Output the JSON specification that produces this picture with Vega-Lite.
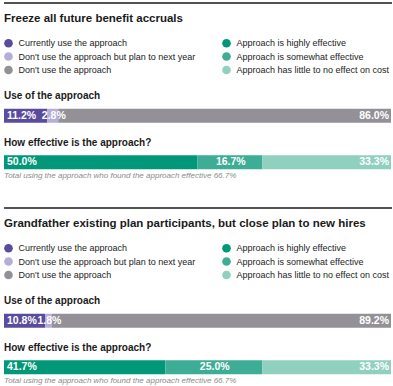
{
  "$schema": "https://vega.github.io/schema/vega-lite/v6.json",
  "padding": {"left": 3, "right": 2, "top": 2, "bottom": 0},
  "background": "#ffffff",
  "config": {
    "view": {"stroke": null},
    "font": "Liberation Sans, Arial, sans-serif",
    "concat": {"spacing": 8.5}
  },
  "datasets": {
    "s1": [
      {"bar": "Use of the approach", "cat": "Currently use the approach", "value": 0.112},
      {"bar": "Use of the approach", "cat": "Don't use the approach but plan to next year", "value": 0.028},
      {"bar": "Use of the approach", "cat": "Don't use the approach", "value": 0.860},
      {"bar": "How effective is the approach?", "cat": "Approach is highly effective", "value": 0.500},
      {"bar": "How effective is the approach?", "cat": "Approach is somewhat effective", "value": 0.167},
      {"bar": "How effective is the approach?", "cat": "Approach has little to no effect on cost", "value": 0.333}
    ],
    "s2": [
      {"bar": "Use of the approach", "cat": "Currently use the approach", "value": 0.108},
      {"bar": "Use of the approach", "cat": "Don't use the approach but plan to next year", "value": 0.018},
      {"bar": "Use of the approach", "cat": "Don't use the approach", "value": 0.892},
      {"bar": "How effective is the approach?", "cat": "Approach is highly effective", "value": 0.417},
      {"bar": "How effective is the approach?", "cat": "Approach is somewhat effective", "value": 0.250},
      {"bar": "How effective is the approach?", "cat": "Approach has little to no effect on cost", "value": 0.333}
    ],
    "rule": [{"k": 0}]
  },
  "resolve": {"scale": {"color": "independent"}, "legend": {"color": "independent"}},
  "vconcat": [
    {
      "width": 388, "height": 1,
      "data": {"name": "rule"},
      "mark": {"type": "rule", "color": "#1a1a1a", "strokeWidth": 1.5},
      "encoding": {"y": {"datum": 0, "type": "quantitative", "scale": {"domain": [0, 1]}, "axis": null}}
    },
    {
      "width": 387, "height": 93,
      "data": {"name": "s1"},
      "title": {"text": "Freeze all future benefit accruals", "anchor": "start", "fontSize": 11.5, "fontWeight": "bold", "color": "#1a1a1a", "offset": 14.25},
      "transform": [
        {"window": [{"op": "row_number", "as": "rank"}], "groupby": ["bar"]},
        {"stack": "value", "groupby": ["bar"], "sort": [{"field": "rank", "order": "ascending"}], "offset": "normalize", "as": ["x0", "x1"]}
      ],
      "encoding": {
        "y": {"field": "bar", "type": "nominal", "axis": null, "scale": {"domain": ["Use of the approach", "How effective is the approach?"], "paddingInner": 0, "paddingOuter": 0}}
      },
      "layer": [
        {
          "mark": {"type": "bar", "size": 14},
          "encoding": {
            "x": {"field": "x0", "type": "quantitative", "axis": null, "scale": {"domain": [0, 1], "nice": false}},
            "x2": {"field": "x1"},
            "color": {"field": "cat", "type": "nominal",
              "scale": {"domain": ["Currently use the approach", "Approach is highly effective", "Don't use the approach but plan to next year", "Approach is somewhat effective", "Don't use the approach", "Approach has little to no effect on cost"],
                        "range": ["#5b4b9e", "#009879", "#b6add8", "#3dae95", "#939197", "#90d0bf"]},
              "legend": {"orient": "top", "columns": 2, "title": null, "symbolType": "circle", "symbolSize": 75, "symbolStrokeWidth": 0, "labelFontSize": 9, "labelColor": "#222222", "labelLimit": 300, "labelOffset": 5.5, "rowPadding": 3.5, "columnPadding": 26, "offset": 17, "padding": 0}
            }
          }
        },
        {
          "transform": [{"filter": "datum.rank == 1"}],
          "mark": {"type": "text", "align": "left", "dx": 3, "color": "#ffffff", "fontWeight": "bold", "fontSize": 10.5},
          "encoding": {"x": {"field": "x0", "type": "quantitative"}, "text": {"field": "value", "type": "quantitative", "format": ".1%"}}
        },
        {
          "transform": [{"filter": "datum.rank == 2"}, {"fold": ["x0", "x1"], "as": ["k", "xv"]}],
          "mark": {"type": "text", "align": "center", "dx": 1, "color": "#ffffff", "fontWeight": "bold", "fontSize": 10.5},
          "encoding": {"x": {"field": "xv", "aggregate": "mean", "type": "quantitative"}, "text": {"field": "value", "aggregate": "max", "type": "quantitative", "format": ".1%"}}
        },
        {
          "transform": [{"filter": "datum.rank == 3"}],
          "mark": {"type": "text", "align": "right", "dx": -2, "color": "#ffffff", "fontWeight": "bold", "fontSize": 10.5},
          "encoding": {"x": {"field": "x1", "type": "quantitative"}, "text": {"field": "value", "type": "quantitative", "format": ".1%"}}
        },
        {
          "transform": [{"filter": "datum.rank == 1"}],
          "mark": {"type": "text", "align": "left", "baseline": "middle", "dy": -19.5, "color": "#1a1a1a", "fontWeight": "bold", "fontSize": 10},
          "encoding": {"x": {"datum": 0, "type": "quantitative"}, "text": {"field": "bar", "type": "nominal"}}
        },
        {
          "transform": [{"filter": "datum.rank == 1 && datum.bar == 'How effective is the approach?'"}],
          "mark": {"type": "text", "align": "left", "baseline": "middle", "dy": 14, "color": "#8a8a8a", "fontStyle": "italic", "fontSize": 8},
          "encoding": {"x": {"datum": 0, "type": "quantitative"}, "text": {"value": "Total using the approach who found the approach effective 66.7%"}}
        }
      ]
    },
    {
      "width": 388, "height": 14,
      "data": {"name": "rule"},
      "mark": {"type": "rule", "color": "#1a1a1a", "strokeWidth": 1.5},
      "encoding": {"y": {"datum": 0, "type": "quantitative", "scale": {"domain": [0, 1]}, "axis": null}}
    },
    {
      "width": 387, "height": 93,
      "data": {"name": "s2"},
      "title": {"text": "Grandfather existing plan participants, but close plan to new hires", "anchor": "start", "fontSize": 11.5, "fontWeight": "bold", "color": "#1a1a1a", "offset": 14.25},
      "transform": [
        {"window": [{"op": "row_number", "as": "rank"}], "groupby": ["bar"]},
        {"stack": "value", "groupby": ["bar"], "sort": [{"field": "rank", "order": "ascending"}], "offset": "normalize", "as": ["x0", "x1"]}
      ],
      "encoding": {
        "y": {"field": "bar", "type": "nominal", "axis": null, "scale": {"domain": ["Use of the approach", "How effective is the approach?"], "paddingInner": 0, "paddingOuter": 0}}
      },
      "layer": [
        {
          "mark": {"type": "bar", "size": 14},
          "encoding": {
            "x": {"field": "x0", "type": "quantitative", "axis": null, "scale": {"domain": [0, 1], "nice": false}},
            "x2": {"field": "x1"},
            "color": {"field": "cat", "type": "nominal",
              "scale": {"domain": ["Currently use the approach", "Approach is highly effective", "Don't use the approach but plan to next year", "Approach is somewhat effective", "Don't use the approach", "Approach has little to no effect on cost"],
                        "range": ["#5b4b9e", "#009879", "#b6add8", "#3dae95", "#939197", "#90d0bf"]},
              "legend": {"orient": "top", "columns": 2, "title": null, "symbolType": "circle", "symbolSize": 75, "symbolStrokeWidth": 0, "labelFontSize": 9, "labelColor": "#222222", "labelLimit": 300, "labelOffset": 5.5, "rowPadding": 3.5, "columnPadding": 26, "offset": 17, "padding": 0}
            }
          }
        },
        {
          "transform": [{"filter": "datum.rank == 1"}],
          "mark": {"type": "text", "align": "left", "dx": 3, "color": "#ffffff", "fontWeight": "bold", "fontSize": 10.5},
          "encoding": {"x": {"field": "x0", "type": "quantitative"}, "text": {"field": "value", "type": "quantitative", "format": ".1%"}}
        },
        {
          "transform": [{"filter": "datum.rank == 2"}, {"fold": ["x0", "x1"], "as": ["k", "xv"]}],
          "mark": {"type": "text", "align": "center", "dx": 1, "color": "#ffffff", "fontWeight": "bold", "fontSize": 10.5},
          "encoding": {"x": {"field": "xv", "aggregate": "mean", "type": "quantitative"}, "text": {"field": "value", "aggregate": "max", "type": "quantitative", "format": ".1%"}}
        },
        {
          "transform": [{"filter": "datum.rank == 3"}],
          "mark": {"type": "text", "align": "right", "dx": -2, "color": "#ffffff", "fontWeight": "bold", "fontSize": 10.5},
          "encoding": {"x": {"field": "x1", "type": "quantitative"}, "text": {"field": "value", "type": "quantitative", "format": ".1%"}}
        },
        {
          "transform": [{"filter": "datum.rank == 1"}],
          "mark": {"type": "text", "align": "left", "baseline": "middle", "dy": -19.5, "color": "#1a1a1a", "fontWeight": "bold", "fontSize": 10},
          "encoding": {"x": {"datum": 0, "type": "quantitative"}, "text": {"field": "bar", "type": "nominal"}}
        },
        {
          "transform": [{"filter": "datum.rank == 1 && datum.bar == 'How effective is the approach?'"}],
          "mark": {"type": "text", "align": "left", "baseline": "middle", "dy": 14, "color": "#8a8a8a", "fontStyle": "italic", "fontSize": 8},
          "encoding": {"x": {"datum": 0, "type": "quantitative"}, "text": {"value": "Total using the approach who found the approach effective 66.7%"}}
        }
      ]
    }
  ]
}
